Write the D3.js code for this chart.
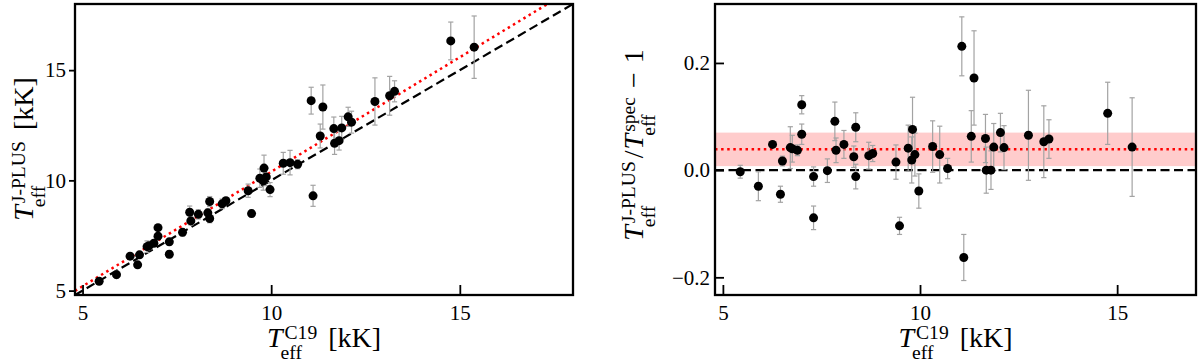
<!DOCTYPE html>
<html>
<head>
<meta charset="utf-8">
<script src="https://d3js.org/d3.v7.min.js"></script>
<style>
  body { margin: 0; background: #fff; }
  svg text { font-family: "Liberation Serif", "Times New Roman", serif !important; fill: #000; }
</style>
</head>
<body>
<div id="chart"></div>
<script>
// C19 temperatures (kK) of the stars
var tC19 = [5.44, 5.90, 6.26, 6.46, 6.51, 6.71, 6.76, 6.89, 7.00, 7.00,
            7.30, 7.30, 7.65, 7.84, 7.87, 8.07, 8.32, 8.37, 8.37, 8.70,
            8.80, 9.39, 9.48, 9.70, 9.79, 9.81, 9.87, 9.97, 10.32, 10.50,
            10.70, 11.06, 11.11, 11.30, 11.37, 11.66, 11.68, 11.80, 11.87, 12.04,
            12.13, 12.75, 13.14, 13.27, 14.76, 15.38];
// relative difference T_JPLUS / T_spec - 1
var relDiff = [-0.003, -0.030, 0.048, -0.045, 0.017, 0.042, 0.040, 0.037, 0.122, 0.067,
               -0.012, -0.089, -0.001, 0.091, 0.037, 0.048, 0.025, 0.080, -0.012, 0.027,
               0.031, 0.015, -0.104, 0.041, 0.019, 0.076, 0.029, -0.039, 0.044, 0.029,
               0.003, 0.231, -0.163, 0.063, 0.172, 0.059, 0.000, 0.000, 0.043, 0.070,
               0.042, 0.065, 0.053, 0.058, 0.106, 0.043];
// error on the relative difference
var relErr = [0.012, 0.027, 0.004, 0.015, 0.009, 0.039, 0.025, 0.010, 0.017, 0.019,
              0.018, 0.022, 0.022, 0.036, 0.023, 0.026, 0.020, 0.027, 0.023, 0.025,
              0.015, 0.032, 0.016, 0.043, 0.043, 0.060, 0.040, 0.032, 0.048, 0.053,
              0.019, 0.055, 0.043, 0.048, 0.088, 0.045, 0.043, 0.036, 0.044, 0.036,
              0.041, 0.084, 0.067, 0.036, 0.058, 0.092];
// mean offset and its spread
var meanOffset = 0.039;
var bandLow = 0.0075, bandHigh = 0.070;

var xTicks = [5, 10, 15];
var yTicksL = [5, 10, 15];
var yTicksR = [-0.2, 0, 0.2];

// J-PLUS temperature follows from T_C19 * (1 + rel. diff)
var data = tC19.map(function(x, i) {
  return { x: x, r: relDiff[i], er: relErr[i],
           y: x * (1 + relDiff[i]), ey: x * relErr[i] };
});

var FONT = "'Liberation Serif', 'Times New Roman', serif";

var svg = d3.select("#chart").append("svg")
  .attr("width", 1200).attr("height", 363);

var L = {x0: 75, x1: 573, y0: 4, y1: 295};
var R = {x0: 715, x1: 1196, y0: 4, y1: 295};

var xL = d3.scaleLinear().domain([4.8, 18]).range([L.x0, L.x1]);
var yL = d3.scaleLinear().domain([4.8, 18]).range([L.y1, L.y0]);
var xR = d3.scaleLinear().domain([4.8, 17]).range([R.x0, R.x1]);
var yR = d3.scaleLinear().domain([-0.233, 0.31]).range([R.y1, R.y0]);

function clip(id, p) {
  svg.append("clipPath").attr("id", id).append("rect")
    .attr("x", p.x0).attr("y", p.y0).attr("width", p.x1 - p.x0).attr("height", p.y1 - p.y0);
}
clip("cl", L); clip("cr", R);

function errorbars(g, xs, ys, key, ekey) {
  var eb = g.selectAll(".eb").data(data).enter().append("g")
    .attr("stroke", "#a3a3a3").attr("stroke-width", 1.2);
  eb.append("line")
    .attr("x1", function(d) { return xs(d.x); }).attr("x2", function(d) { return xs(d.x); })
    .attr("y1", function(d) { return ys(d[key] - d[ekey]); })
    .attr("y2", function(d) { return ys(d[key] + d[ekey]); });
  [-1, 1].forEach(function(s) {
    eb.append("line")
      .attr("x1", function(d) { return xs(d.x) - 2.6; }).attr("x2", function(d) { return xs(d.x) + 2.6; })
      .attr("y1", function(d) { return ys(d[key] + s * d[ekey]); })
      .attr("y2", function(d) { return ys(d[key] + s * d[ekey]); });
  });
}

function points(g, xs, ys, key) {
  g.selectAll(".pt").data(data).enter().append("circle")
    .attr("cx", function(d) { return xs(d.x); })
    .attr("cy", function(d) { return ys(d[key]); })
    .attr("r", 4.5).attr("fill", "#000");
}

// ---- left panel ----
var gL = svg.append("g").attr("clip-path", "url(#cl)");
gL.append("line")
  .attr("x1", xL(4.8)).attr("y1", yL(4.8)).attr("x2", xL(18)).attr("y2", yL(18))
  .attr("stroke", "#000").attr("stroke-width", 2.2).attr("stroke-dasharray", "9,4.5");
gL.append("line")
  .attr("x1", xL(4.8)).attr("y1", yL(4.8 * (1 + meanOffset)))
  .attr("x2", xL(18)).attr("y2", yL(18 * (1 + meanOffset)))
  .attr("stroke", "red").attr("stroke-width", 2.5).attr("stroke-dasharray", "2.5,3.6");
errorbars(gL, xL, yL, "y", "ey");
points(gL, xL, yL, "y");

// ---- right panel ----
var gR = svg.append("g").attr("clip-path", "url(#cr)");
gR.append("rect")
  .attr("x", R.x0).attr("width", R.x1 - R.x0)
  .attr("y", yR(bandHigh)).attr("height", yR(bandLow) - yR(bandHigh))
  .attr("fill", "#ffcccc");
gR.append("line")
  .attr("x1", R.x0).attr("x2", R.x1).attr("y1", yR(0)).attr("y2", yR(0))
  .attr("stroke", "#000").attr("stroke-width", 2.2).attr("stroke-dasharray", "9,4.5");
gR.append("line")
  .attr("x1", R.x0).attr("x2", R.x1).attr("y1", yR(meanOffset)).attr("y2", yR(meanOffset))
  .attr("stroke", "red").attr("stroke-width", 2.5).attr("stroke-dasharray", "2.5,3.6");
errorbars(gR, xR, yR, "r", "er");
points(gR, xR, yR, "r");

// ---- axes ----
function styleAxis(g) {
  g.attr("font-family", null).attr("font-size", null);
  g.select(".domain").remove();
  g.selectAll(".tick line").attr("stroke", "#000").attr("stroke-width", 1.8);
  g.selectAll(".tick text").style("font-size", "21px").style("font-family", FONT);
}
svg.append("g").attr("transform", "translate(0," + L.y1 + ")")
  .call(d3.axisBottom(xL).tickValues(xTicks).tickSize(-10).tickPadding(10).tickFormat(d3.format("d")))
  .call(styleAxis);
svg.append("g").attr("transform", "translate(" + L.x0 + ",0)")
  .call(d3.axisLeft(yL).tickValues(yTicksL).tickSize(6).tickPadding(3).tickFormat(d3.format("d")))
  .call(styleAxis);
svg.append("g").attr("transform", "translate(0," + R.y1 + ")")
  .call(d3.axisBottom(xR).tickValues(xTicks).tickSize(-10).tickPadding(10).tickFormat(d3.format("d")))
  .call(styleAxis);
svg.append("g").attr("transform", "translate(" + R.x0 + ",0)")
  .call(d3.axisLeft(yR).tickValues(yTicksR).tickSize(-9).tickPadding(5).tickFormat(d3.format(".1f")))
  .call(styleAxis);

// frames
[L, R].forEach(function(p) {
  svg.append("rect").attr("x", p.x0).attr("y", p.y0)
    .attr("width", p.x1 - p.x0).attr("height", p.y1 - p.y0)
    .attr("fill", "none").attr("stroke", "#000").attr("stroke-width", 2.3);
});

// ---- math-like labels: T with stacked super/subscript ----
function mathLabel(segs, fs) {
  var g = svg.append("g");
  var inner = g.append("g");
  var x = 0, small = fs * 0.7;
  segs.forEach(function(s) {
    if (s.t !== undefined) {
      var t = inner.append("text").attr("x", x).attr("y", 0)
        .style("font-size", (s.fs || fs) + "px").style("font-family", FONT)
        .style("font-style", s.it ? "italic" : "normal").text(s.t);
      x += t.node().getComputedTextLength() + (s.pad || 0);
    } else {
      var a = inner.append("text").attr("x", x + 2).attr("y", -fs * 0.3)
        .style("font-size", small + "px").style("font-family", FONT).text(s.sup);
      var b = inner.append("text").attr("x", x - 2).attr("y", fs * 0.44)
        .style("font-size", small + "px").style("font-family", FONT).text(s.sub);
      x += Math.max(a.node().getComputedTextLength() + 2, b.node().getComputedTextLength() - 2) + (s.pad || 2);
    }
  });
  inner.attr("transform", "translate(" + (-x / 2) + ",0)");
  return g;
}

var fsLab = 28;
mathLabel([{t: "T", it: true}, {sup: "C19", sub: "eff", pad: 11}, {t: "[kK]"}], fsLab)
  .attr("transform", "translate(" + ((L.x0 + L.x1) / 2) + ",347)");
mathLabel([{t: "T", it: true}, {sup: "C19", sub: "eff", pad: 11}, {t: "[kK]"}], fsLab)
  .attr("transform", "translate(" + ((R.x0 + R.x1) / 2) + ",347)");
mathLabel([{t: "T", it: true}, {sup: "J-PLUS", sub: "eff", pad: 11}, {t: "[kK]"}], fsLab)
  .attr("transform", "translate(33,149) rotate(-90)");
mathLabel([{t: "T", it: true}, {sup: "J-PLUS", sub: "eff", pad: 3}, {t: "/", pad: 1},
           {t: "T", it: true}, {sup: "spec", sub: "eff", pad: 9}, {t: "\u2212", pad: 9}, {t: "1"}], fsLab)
  .attr("transform", "translate(643,145) rotate(-90)");
</script>
</body>
</html>
